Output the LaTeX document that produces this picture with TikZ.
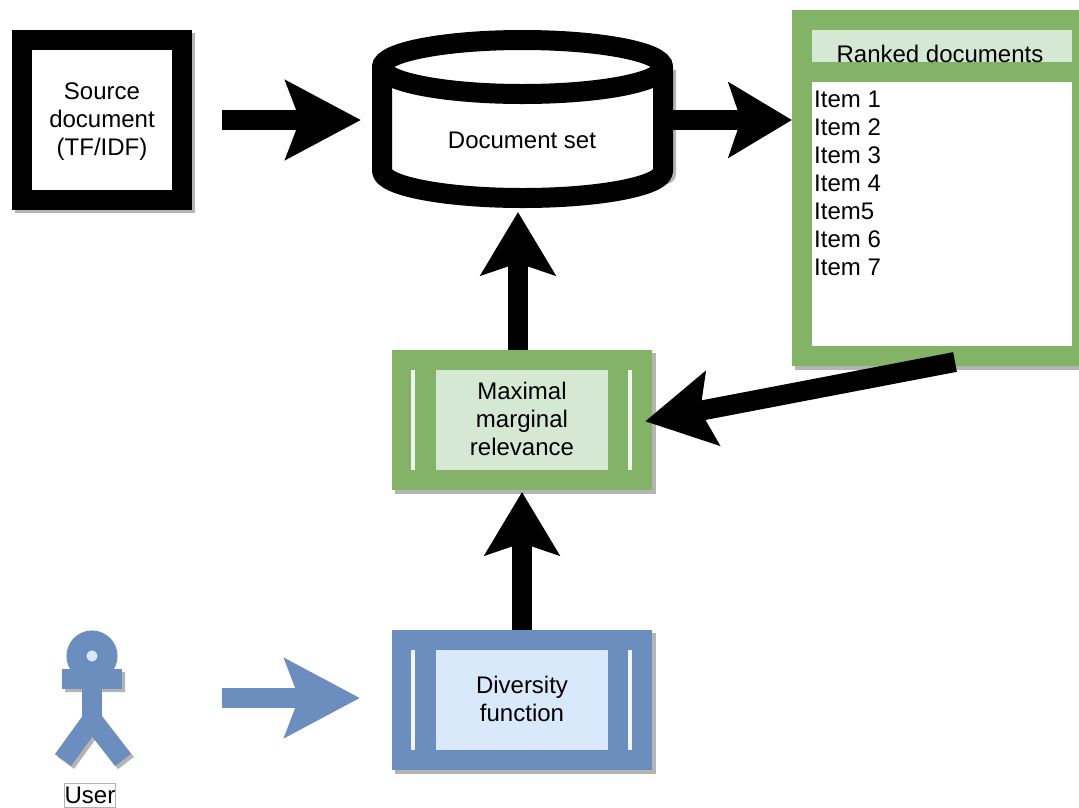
\documentclass[tikz,border=0pt]{standalone}
\usepackage{fontspec}
\setmainfont{Liberation Sans}
\usetikzlibrary{arrows.meta}

\definecolor{greendark}{HTML}{82B366}
\definecolor{greenlight}{HTML}{D5E8D4}
\definecolor{bluedark}{HTML}{6C8EBF}
\definecolor{bluelight}{HTML}{DAE8FC}
\definecolor{shadowgray}{HTML}{B4B4B4}

\tikzset{
    shadowed/.style={preaction={draw=shadowgray, fill=shadowgray, transform canvas={xshift=3pt, yshift=-3pt}}},
    outerbox/.style={rectangle, outer sep=0pt, inner sep=0pt, shadowed},
    innerbox/.style={rectangle, outer sep=0pt, inner sep=0pt, align=center, text width=172pt},
    sideline/.style={draw=white!88!greendark, line width=4pt},
    bigarrow/.style={line width=20pt, -{Stealth[length=75pt, width=78pt, inset=14pt]}},
    midarrow/.style={line width=20pt, -{Stealth[length=63pt, width=74pt, inset=12pt]}},
    slantarrow/.style={line width=20pt, -{Stealth[length=68pt, width=74pt, inset=12pt]}}
}

\begin{document}
\begin{tikzpicture}[x=1pt, y=-1pt, font=\fontsize{24}{28}\selectfont]
    \useasboundingbox (0,0) rectangle (1079,807);

    % source box
    \node (source) [outerbox, draw=black, fill=white, line width=20pt, outer sep=10pt, minimum width=160pt, minimum height=160pt, align=center] at (102,120) {};
    \node (sourcelabel) [align=center] at (102,122) {Source\\document\\(TF/IDF)};

    % document set
    \node (docset) [rectangle, inner sep=0pt, outer sep=0pt, minimum width=298pt, minimum height=178pt] at (522,120) {};
    \draw [shadowgray, line width=20pt, line join=round, transform canvas={xshift=3pt, yshift=-3pt}] (382,67) -- (382,171) arc[start angle=180, end angle=360, x radius=140.5, y radius=27] -- (663,67);
    \draw [black, fill=white, line width=20pt, line join=round] (382,67) arc[start angle=180, end angle=0, x radius=140.5, y radius=27] -- (663,171) arc[start angle=0, end angle=180, x radius=140.5, y radius=27] -- cycle;
    \draw [black, line width=20pt, line cap=round] (382,67) arc[start angle=180, end angle=360, x radius=140.5, y radius=27];
    \node (docsetlabel) at (522,140) {Document set};

    % ranked documents
    \node (ranked) [outerbox, fill=greendark, minimum width=290pt, minimum height=356pt] at (937,188) {};
    \node (rankedtitle) [rectangle, fill=greenlight, inner sep=0pt, minimum width=260pt, minimum height=32pt] at (942,46) {};
    \node (rankedlabel) at (940,54) {Ranked documents};
    \node (itembox) [rectangle, fill=white, inner sep=0pt, minimum width=260pt, minimum height=264pt] at (942,214) {};
    \node (items) [anchor=north west, inner sep=0pt, align=left] at (814,91) {Item 1\\Item 2\\Item 3\\Item 4\\Item5\\Item 6\\Item 7};

    % maximal marginal relevance
    \node (mmr) [outerbox, fill=greendark, minimum width=260pt, minimum height=140pt] at (522,420) {};
    \node (mmrinner) [innerbox, fill=greenlight, minimum height=100pt] at (522,420) {};
    \node (mmrlabel) [align=center] at (522,419) {Maximal\\marginal\\relevance};
    \draw [sideline] (413,370) -- (413,470);
    \draw [sideline] (630,370) -- (630,470);

    % diversity function
    \node (diversity) [outerbox, fill=bluedark, minimum width=260pt, minimum height=140pt] at (522,700) {};
    \node (diversityinner) [innerbox, fill=bluelight, minimum height=100pt] at (522,700) {};
    \node (diversitylabel) [align=center] at (522,699) {Diversity\\function};
    \draw [sideline] (413,650) -- (413,750);
    \draw [sideline] (630,650) -- (630,750);

    % user
    \node (user) [rectangle, inner sep=0pt, outer sep=0pt, minimum width=76pt, minimum height=136pt] at (92,698) {};
    \draw [shadowgray, line width=20pt, transform canvas={xshift=3pt, yshift=-3pt}] (62,679) -- (122,679) (63,760) -- (92,720) -- (123,760);
    \draw [bluedark, line width=20pt] (92,655) -- (92,720);
    \draw [bluedark, line width=20pt] (63,760) -- (92,720) -- (123,760);
    \draw [bluedark, line width=20pt] (62,679) -- (122,679);
    \node (head) [circle, draw=bluedark, fill=bluelight, line width=20pt, inner sep=0pt, minimum size=31pt] at (92,656) {};
    \node (userlabel) [draw=gray!60, line width=.5pt, inner sep=0pt, minimum width=50pt, minimum height=24pt] at (90,795) {User};

    % connectors
    \coordinate (mmrtop) at (518,350);
    \coordinate (docbottom) at (518,208);
    \coordinate (rankedfoot) at (955,362);
    \draw [bigarrow, shorten <=30pt, shorten >=12pt] (source.east) -- (docset.west);
    \draw [midarrow] (docset.east) -- (ranked.west |- docset.east);
    \draw [midarrow, shorten >=4pt] (mmrtop) -- (docbottom);
    \draw [slantarrow, shorten >=-7pt] (rankedfoot) -- (mmr.east);
    \draw [midarrow, shorten >=2pt] (diversity.north) -- (mmr.south);
    \draw [bigarrow, bluedark, shorten <=92pt, shorten >=32pt] (user.east) -- (diversity.west |- user.east);
\end{tikzpicture}
\end{document}
